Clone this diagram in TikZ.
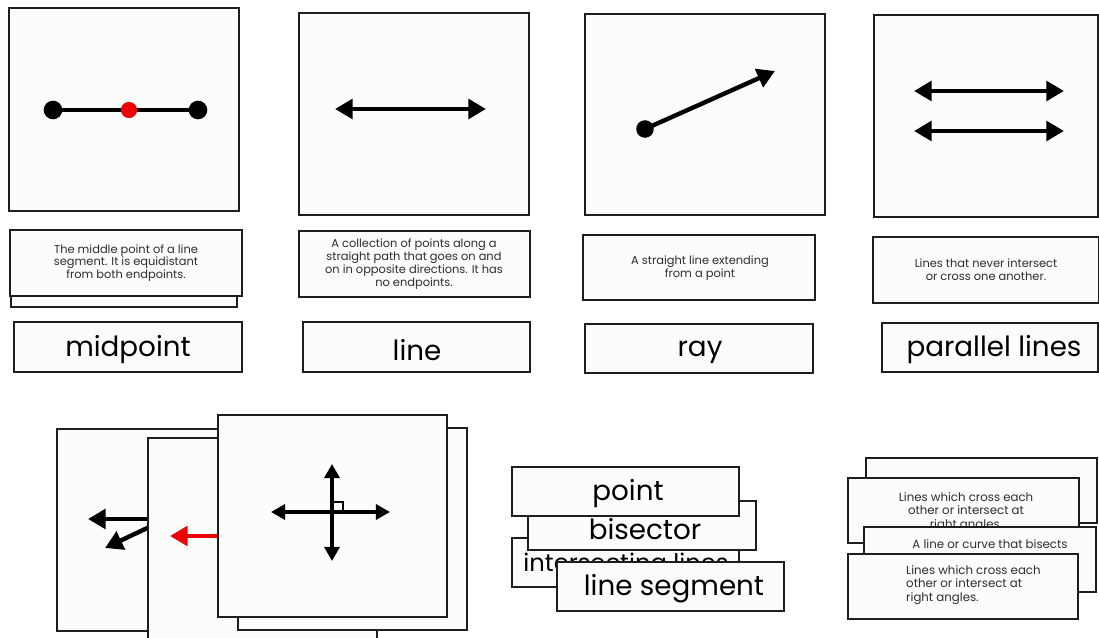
\documentclass[tikz,border=0pt]{standalone}
\usepackage{fontspec}
\setmainfont{Poppins}
\usetikzlibrary{arrows.meta}
\definecolor{cardgray}{RGB}{252,252,252}
\definecolor{edgegray}{RGB}{30,30,30}
\definecolor{textgray}{RGB}{45,45,45}
\definecolor{midred}{RGB}{238,0,0}

\begin{document}
\begin{tikzpicture}[x=0.02cm,y=-0.02cm,
    card/.style={draw=edgegray,line width=1pt,fill=cardgray},
    word/.style={font=\fontsize{15.8}{18}\selectfont},
    blurb/.style={font=\fontsize{6.5}{7.3}\selectfont,text=textgray,align=center},
    note/.style={font=\fontsize{6.7}{7.9}\selectfont,text=textgray,align=center},
    shaft/.style={line width=2.5pt},
    oneway/.style={-{Triangle[length=10pt,width=11pt]}},
    twoway/.style={{Triangle[length=10pt,width=11pt]}-{Triangle[length=10pt,width=11pt]}},
    smallway/.style={line width=2.2pt,{Triangle[length=8pt,width=8.5pt]}-{Triangle[length=8pt,width=8.5pt]}}]
    \useasboundingbox (0,0) rectangle (1099,638);

    % midpoint
    \draw[card] (9,8) rectangle (239,211);
    \draw[line width=2.3pt] (53,110) -- (198,110);
    \fill (53,110) circle[radius=5.3pt];
    \fill (198,110) circle[radius=5.3pt];
    \fill[midred] (129,110) circle[radius=4.6pt];
    \draw[card] (11,242) rectangle (237,307);
    \draw[card] (10,230) rectangle (242,296);
    \node[blurb] (midblurb) at (126,263) {The middle point of a line\\segment. It is equidistant\\from both endpoints.};
    \draw[card] (14,322) rectangle (242,372);
    \node[word] (midword) at (128,350) {midpoint};

    % line
    \draw[card] (299,13) rectangle (529,215);
    \draw[shaft,twoway] (335,109) -- (486,109);
    \draw[card] (299,231) rectangle (530,297);
    \node[blurb] (lineblurb) at (414,264) {A collection of points along a\\straight path that goes on and\\on in opposite directions. It has\\no endpoints.};
    \draw[card] (303,322) rectangle (530,372);
    \node[word] (lineword) at (417,350) {line};

    % ray
    \draw[card] (585,14) rectangle (825,215);
    \draw[shaft,oneway] (645,129) -- (775,71);
    \fill (645,129) circle[radius=5pt];
    \draw[card] (583,235) rectangle (815,300);
    \node[blurb] (rayblurb) at (700,268) {A straight line extending\\from a point};
    \draw[card] (585,324) rectangle (813,373);
    \node[word] (rayword) at (700,352) {ray};

    % parallel lines
    \draw[card] (874,15) rectangle (1098,217);
    \draw[shaft,twoway] (914,91) -- (1064,91);
    \draw[shaft,twoway] (914,131) -- (1064,131);
    \draw[card] (873,237) rectangle (1099,303);
    \node[blurb] (parblurb) at (986,270) {Lines that never intersect\\or cross one another.};
    \draw[card] (882,323) rectangle (1098,372);
    \node[word] (parword) at (994,350) {parallel lines};

    % stack of picture cards
    \draw[card] (57,429) rectangle (287,631);
    \draw[shaft,oneway] (160,519) -- (88,519);
    \draw[shaft,oneway] (160,522) -- (105,548);
    \draw[card] (148,438) rectangle (377,660);
    \draw[shaft,midred,oneway] (230,536) -- (170,536);
    \draw[card] (238,428) rectangle (467,630);
    \draw[card] (218,415) rectangle (447,617);
    \draw[smallway] (271,512) -- (390,512);
    \draw[smallway] (332,464) -- (332,561);
    \draw[line width=1pt] (332,502) -- (343,502) -- (343,511);

    % stack of word cards
    \draw[card] (512,538) rectangle (739,587);
    \node[word,font=\fontsize{13.8}{16}\selectfont] (crossword) at (626,566) {intersecting lines};
    \draw[card] (528,501) rectangle (756,550);
    \node[word] (bisword) at (645,529) {bisector};
    \draw[card] (512,467) rectangle (739,516);
    \node[word] (pointword) at (628,494) {point};
    \draw[card] (557,562) rectangle (784,611);
    \node[word] (segword) at (674,589) {line segment};

    % stack of definition cards
    \draw[card] (866,458) rectangle (1097,523);
    \draw[card] (848,478) rectangle (1079,543);
    \node[note] (perpnote) at (966,512) {Lines which cross each\\other or intersect at\\right angles.};
    \draw[card] (864,527) rectangle (1096,592);
    \node[note] (bisnote) at (990,544) {A line or curve that bisects};
    \draw[card] (848,554) rectangle (1078,619);
    \node[note,align=left,anchor=west] (perpnotetwo) at (900,585) {Lines which cross each\\other or intersect at\\right angles.};
\end{tikzpicture}
\end{document}
